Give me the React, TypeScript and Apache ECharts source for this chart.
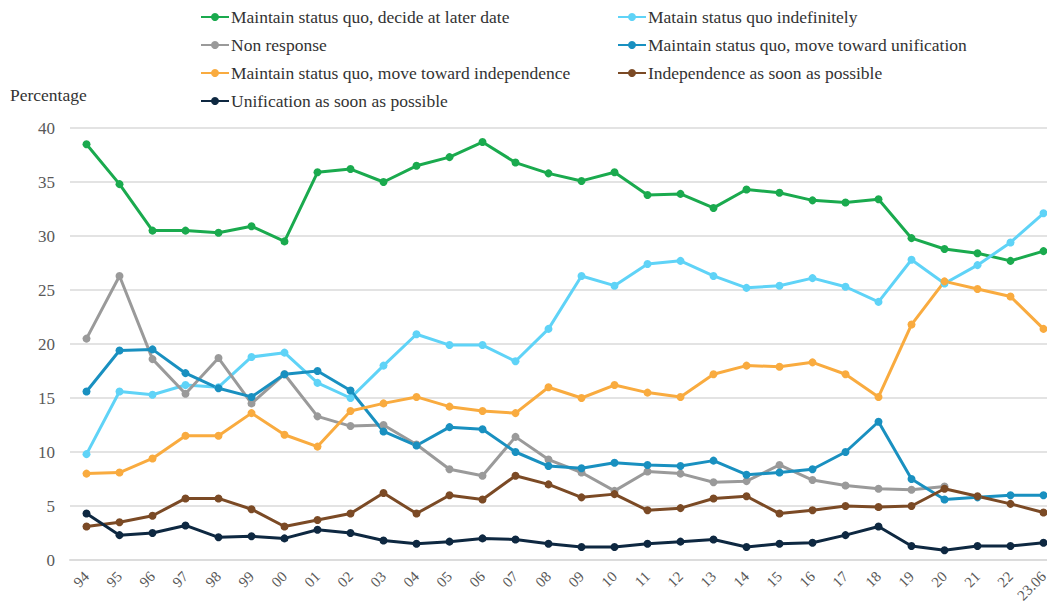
import React, { useEffect, useRef } from "react";
import * as echarts from "echarts";

const categories = ["94","95","96","97","98","99","00","01","02","03","04","05","06","07","08","09","10","11","12","13","14","15","16","17","18","19","20","21","22","23.06"];

const decideLater = [38.5,34.8,30.5,30.5,30.3,30.9,29.5,35.9,36.2,35.0,36.5,37.3,38.7,36.8,35.8,35.1,35.9,33.8,33.9,32.6,34.3,34.0,33.3,33.1,33.4,29.8,28.8,28.4,27.7,28.6];
const indefinitely = [9.8,15.6,15.3,16.2,16.0,18.8,19.2,16.4,15.0,18.0,20.9,19.9,19.9,18.4,21.4,26.3,25.4,27.4,27.7,26.3,25.2,25.4,26.1,25.3,23.9,27.8,25.6,27.3,29.4,32.1];
const nonResponse: (number | null)[] = [20.5,26.3,18.6,15.4,18.7,14.5,17.2,13.3,12.4,12.5,10.7,8.4,7.8,11.4,9.3,8.1,6.4,8.2,8.0,7.2,7.3,8.8,7.4,6.9,6.6,6.5,6.8,null,null,null];
const towardUnification = [15.6,19.4,19.5,17.3,15.9,15.1,17.2,17.5,15.7,11.9,10.6,12.3,12.1,10.0,8.7,8.5,9.0,8.8,8.7,9.2,7.9,8.1,8.4,10.0,12.8,7.5,5.6,5.8,6.0,6.0];
const towardIndependence = [8.0,8.1,9.4,11.5,11.5,13.6,11.6,10.5,13.8,14.5,15.1,14.2,13.8,13.6,16.0,15.0,16.2,15.5,15.1,17.2,18.0,17.9,18.3,17.2,15.1,21.8,25.8,25.1,24.4,21.4];
const independenceASAP = [3.1,3.5,4.1,5.7,5.7,4.7,3.1,3.7,4.3,6.2,4.3,6.0,5.6,7.8,7.0,5.8,6.1,4.6,4.8,5.7,5.9,4.3,4.6,5.0,4.9,5.0,6.6,5.9,5.2,4.4];
const unificationASAP = [4.3,2.3,2.5,3.2,2.1,2.2,2.0,2.8,2.5,1.8,1.5,1.7,2.0,1.9,1.5,1.2,1.2,1.5,1.7,1.9,1.2,1.5,1.6,2.3,3.1,1.3,0.9,1.3,1.3,1.6];

const yTicks = [0, 5, 10, 15, 20, 25, 30, 35, 40];

const seriesDefs = [
  { name: "Maintain status quo, decide at later date", data: decideLater, color: "#1aaa4e" },
  { name: "Matain status quo indefinitely", data: indefinitely, color: "#5fd3f7" },
  { name: "Non response", data: nonResponse, color: "#9a9a9a" },
  { name: "Maintain status quo, move toward unification", data: towardUnification, color: "#1990c0" },
  { name: "Maintain status quo, move toward independence", data: towardIndependence, color: "#f9ab3f" },
  { name: "Independence as soon as possible", data: independenceASAP, color: "#7b4a25" },
  { name: "Unification as soon as possible", data: unificationASAP, color: "#0e2841" },
];

const FONT = "Liberation Serif";

export default function App() {
  const ref = useRef<HTMLDivElement>(null);
  useEffect(() => {
    if (!ref.current) return;
    const chart = echarts.init(ref.current, undefined, { renderer: "svg" });
    const legendCommon = {
      orient: "vertical" as const,
      itemWidth: 28,
      itemHeight: 10,
      itemGap: 10,
      textStyle: { fontFamily: FONT, fontSize: 17.5, color: "#333333", lineHeight: 18, padding: [0, 0, 0, -3] },
      padding: 0,
    };
    chart.setOption({
      animation: false,
      backgroundColor: "#ffffff",
      textStyle: { fontFamily: FONT },
      grid: { left: 70, right: 0, top: 128, bottom: 50, containLabel: false },
      legend: [
        { ...legendCommon, left: 200, top: 8, data: [seriesDefs[0].name, seriesDefs[2].name, seriesDefs[4].name, seriesDefs[6].name] },
        { ...legendCommon, left: 617, top: 8, data: [seriesDefs[1].name, seriesDefs[3].name, seriesDefs[5].name] },
      ],
      graphic: [
        { type: "text", left: 10, top: 86, style: { text: "Percentage", fontFamily: FONT, fontSize: 17.5, fill: "#333333" } },
      ],
      xAxis: {
        type: "category",
        data: categories,
        boundaryGap: true,
        axisLine: { show: true, lineStyle: { color: "#dcdcdc", width: 2 } },
        axisTick: { show: false },
        axisLabel: { rotate: 45, margin: 14, fontFamily: FONT, fontSize: 15, color: "#595959", interval: 0 },
      },
      yAxis: {
        type: "value",
        min: yTicks[0],
        max: yTicks[yTicks.length - 1],
        interval: 5,
        axisLine: { show: false },
        axisTick: { show: false },
        splitLine: { lineStyle: { color: "#e3e3e3", width: 2 } },
        axisLabel: { margin: 15, fontFamily: FONT, fontSize: 17, color: "#595959" },
      },
      series: seriesDefs.map((s) => ({
        name: s.name,
        type: "line",
        data: s.data,
        symbol: "circle",
        symbolSize: 8,
        connectNulls: false,
        lineStyle: { color: s.color, width: 3 },
        itemStyle: { color: s.color },
      })),
    });
    return () => chart.dispose();
  }, []);
  return <div ref={ref} style={{ position: "fixed", left: 0, top: 0, width: 1060, height: 610 }} />;
}
